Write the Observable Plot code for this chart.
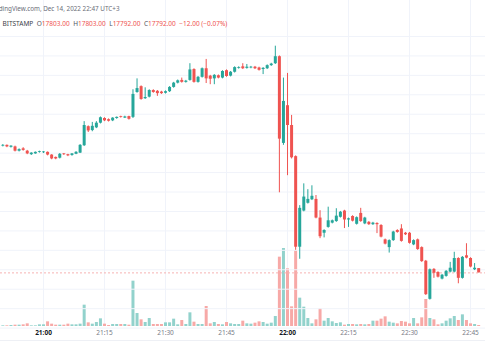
<!DOCTYPE html>
<html><head><meta charset="utf-8">
<script src="https://cdn.jsdelivr.net/npm/d3@7"></script>
<script src="https://cdn.jsdelivr.net/npm/@observablehq/plot@0.6"></script>
<style>
html,body{margin:0;padding:0;background:#fff;}
#wrap{position:relative;width:485px;height:360px;overflow:hidden;font-family:"Noto Sans",sans-serif;}
#wrap .layer{position:absolute;left:0;top:0;}
.hdr{position:absolute;white-space:nowrap;line-height:1;}
.lbl{color:#50535e;margin-left:3.5px;}
.val{color:#ef5350;}
.chg{color:#ef5350;margin-left:3.5px;}
#sep{position:absolute;left:0;top:340px;width:485px;height:1px;background:#eef0f5;}
</style></head><body>
<div id="wrap">
<div id="layer1" class="layer"></div>
<div id="layer2" class="layer"></div>
<div id="sep"></div>
<div class="hdr" id="h1" style="left:-10.5px;top:5.5px;font-size:6.3px;color:#6a6d78">TradingView.com, Dec 14, 2022 22:47 UTC+3</div>
<div class="hdr" id="h2" style="left:2.5px;top:20.5px;font-size:6.5px;color:#3b3e48"></div>
</div>
<script>
// 1-minute candles from 20:50 to 22:47 (UTC+3 clock)
const startTime = "2022-12-14T20:50:00Z";
const open = [
18118,18120,18115,18116,18105,18111,18105,18096,18098,18102,
18101,18102,18095,18089,18087,18098,18096,18094,18097,18100,
18119,18168,18158,18165,18177,18189,18186,18183,18189,18194,
18190,18194,18192,18256,18271,18240,18244,18261,18259,18257,
18254,18258,18269,18280,18287,18282,18287,18315,18282,18295,
18317,18298,18291,18299,18293,18312,18298,18308,18318,18322,
18318,18319,18321,18319,18315,18317,18325,18330,18348,18125,
18222,18171,18091,17858,17951,17971,17980,17981,17933,17894,
17909,17920,17924,17935,17951,17928,17937,17917,17945,17918,
17922,17916,17919,17914,17877,17857,17875,17901,17905,17894,
17894,17864,17877,17857,17822,17724,17801,17793,17776,17783,
17794,17794,17829,17778,17836,17829,17800,17803];
const high = [
18122,18121,18119,18118,18111,18114,18107,18101,18103,18105,
18104,18103,18096,18090,18099,18099,18097,18099,18104,18122,
18181,18170,18179,18181,18193,18191,18188,18191,18193,18195,
18195,18195,18263,18291,18273,18268,18263,18263,18261,18259,
18260,18271,18282,18288,18293,18287,18330,18317,18297,18319,
18341,18300,18302,18301,18312,18314,18310,18322,18322,18330,
18328,18323,18323,18321,18320,18327,18331,18375,18350,18293,
18305,18197,18093,17965,18021,18006,18016,17991,17952,17903,
17961,17928,17957,17950,17953,17933,17939,17936,17958,17935,
17924,17922,17921,17916,17879,17877,17899,17903,17916,17896,
17896,17877,17879,17859,17824,17802,17803,17795,17788,17798,
17819,17845,17831,17834,17867,17831,17816,17803];
const low = [
18116,18114,18113,18103,18103,18105,18096,18094,18097,18100,
18099,18093,18083,18083,18085,18094,18091,18092,18096,18099,
18117,18153,18155,18163,18175,18181,18180,18181,18187,18190,
18189,18185,18189,18254,18236,18238,18242,18254,18246,18251,
18252,18256,18267,18278,18280,18280,18285,18280,18280,18293,
18279,18276,18276,18291,18291,18295,18296,18306,18316,18315,
18316,18317,18315,18311,18302,18315,18323,18328,17998,18120,
18042,18085,17850,17827,17949,17969,17978,17931,17880,17882,
17907,17918,17922,17933,17906,17909,17923,17915,17922,17916,
17914,17914,17893,17882,17864,17843,17873,17894,17871,17888,
17866,17862,17850,17819,17734,17722,17778,17779,17774,17781,
17792,17792,17764,17776,17828,17805,17798,17792];
const close = [
18120,18116,18118,18105,18109,18107,18098,18100,18102,18104,
18103,18095,18085,18085,18097,18096,18093,18098,18102,18120,
18171,18157,18169,18177,18191,18183,18182,18190,18192,18192,
18193,18187,18251,18266,18238,18243,18261,18256,18253,18253,
18258,18269,18280,18286,18282,18285,18314,18282,18295,18317,
18291,18290,18300,18293,18310,18297,18308,18320,18320,18317,
18321,18321,18317,18313,18318,18325,18329,18348,18136,18233,
18171,18088,17858,17958,17987,17981,17989,17933,17885,17901,
17926,17926,17938,17948,17928,17931,17925,17934,17924,17933,
17916,17920,17916,17884,17866,17875,17897,17896,17873,17890,
17868,17875,17852,17821,17736,17800,17791,17781,17786,17796,
17804,17829,17778,17832,17830,17807,17804,17792];
const volume = [
2,2,3,4,4,5,8,2,2,5,
5,14,7,4,4,4,7,5,5,7,
64,11,7,12,23,7,3,6,6,6,
6,4,136,39,20,12,24,6,6,6,
11,11,22,5,18,6,41,13,6,6,
60,8,12,6,5,12,8,6,6,16,
8,7,10,14,12,7,10,30,208,234,
173,59,228,85,58,24,8,20,53,16,
24,14,9,11,4,6,6,5,6,5,
6,16,16,22,29,13,10,8,15,13,
8,24,8,26,81,24,20,5,8,16,
23,30,18,35,18,8,6,3];
const tickLabels = ["21:00","21:15","21:30","21:45","22:00","22:15","22:30","22:45"];
const boldLabels = ["21:00","22:00"];
const gridPrices = [17650,17700,17750,17800,17850,17900,17950,18000,18050,18100,18150,18200,18250,18300,18350,18400];
const lastPrice = 17792;

const UP = "#26a69a", DOWN = "#ef5350", UPV = "#92d2cc", DOWNV = "#f7a9a7";
const t0ms = Date.parse(startTime);
const candles = open.map((o, i) => ({
  time: new Date(t0ms + i * 60000),
  open: o, high: high[i], low: low[i], close: close[i], volume: volume[i],
  up: close[i] >= o
}));
const toDate = s => new Date(`2022-12-14T${s}:00Z`);
const normalTicks = tickLabels.filter(s => !boldLabels.includes(s)).map(toDate);
const boldTicks = boldLabels.map(toDate);
const ref = Date.parse("2022-12-14T21:00:00Z");
const xDomain = [new Date(ref - 10.573 * 60000), new Date(ref + 108.68 * 60000)];
const fmt = d3.utcFormat("%H:%M");
const common = {
  width: 485, height: 345, marginTop: 0, marginLeft: 0, marginRight: 0, marginBottom: 19,
  color: {type: "identity"},
  style: {background: "transparent", overflow: "visible", fontFamily: "Noto Sans"}
};

const layer1 = Plot.plot({
  ...common,
  x: {type: "utc", domain: xDomain, range: [0, 485]},
  y: {domain: [0, 300], range: [326, 226], axis: null},
  marks: [
    Plot.ruleX(tickLabels.map(toDate), {stroke: "#f0f3fa", strokeWidth: 1}),
    Plot.ruleX(candles, {x: "time", y1: 0, y2: "volume", stroke: d => d.up ? UPV : DOWNV, strokeWidth: 3}),
    Plot.axisX(normalTicks, {tickSize: 0, tickPadding: 4, fontSize: 6.5, fill: "#787b86", tickFormat: fmt}),
    Plot.axisX(boldTicks, {tickSize: 0, tickPadding: 4, fontSize: 6.5, fill: "#131722", fontWeight: "bold", tickFormat: fmt})
  ]
});
document.getElementById("layer1").appendChild(layer1);

const layer2 = Plot.plot({
  ...common,
  x: {type: "utc", domain: xDomain, range: [0, 485], axis: null},
  y: {domain: [17650, 18500], range: [327.6, -2.9], axis: null},
  marks: [
    Plot.ruleY(gridPrices, {stroke: "#f0f3fa", strokeWidth: 1}),
    Plot.ruleY([lastPrice], {stroke: "#f6b3b2", strokeWidth: 1, strokeDasharray: "2,2"}),
    Plot.ruleX(candles, {x: "time", y1: "low", y2: "high", stroke: d => d.up ? UP : DOWN, strokeWidth: 1}),
    Plot.ruleX(candles, {x: "time", y1: "open", y2: "close", stroke: d => d.up ? UP : DOWN, strokeWidth: 3})
  ]
});
document.getElementById("layer2").appendChild(layer2);

// legend line: last candle OHLC and change vs previous close
const last = candles[candles.length - 1];
const prev = candles[candles.length - 2];
const chg = last.close - prev.close;
const pct = chg / prev.close * 100;
const f2 = v => v.toFixed(2).replace("-", "\u2212");
document.getElementById("h2").innerHTML =
  `BITSTAMP<span class="lbl">O</span><span class="val">${f2(last.open)}</span>` +
  `<span class="lbl">H</span><span class="val">${f2(last.high)}</span>` +
  `<span class="lbl">L</span><span class="val">${f2(last.low)}</span>` +
  `<span class="lbl">C</span><span class="val">${f2(last.close)}</span>` +
  `<span class="chg">${f2(chg)} (${f2(pct)}%)</span>`;
</script>
</body></html>
